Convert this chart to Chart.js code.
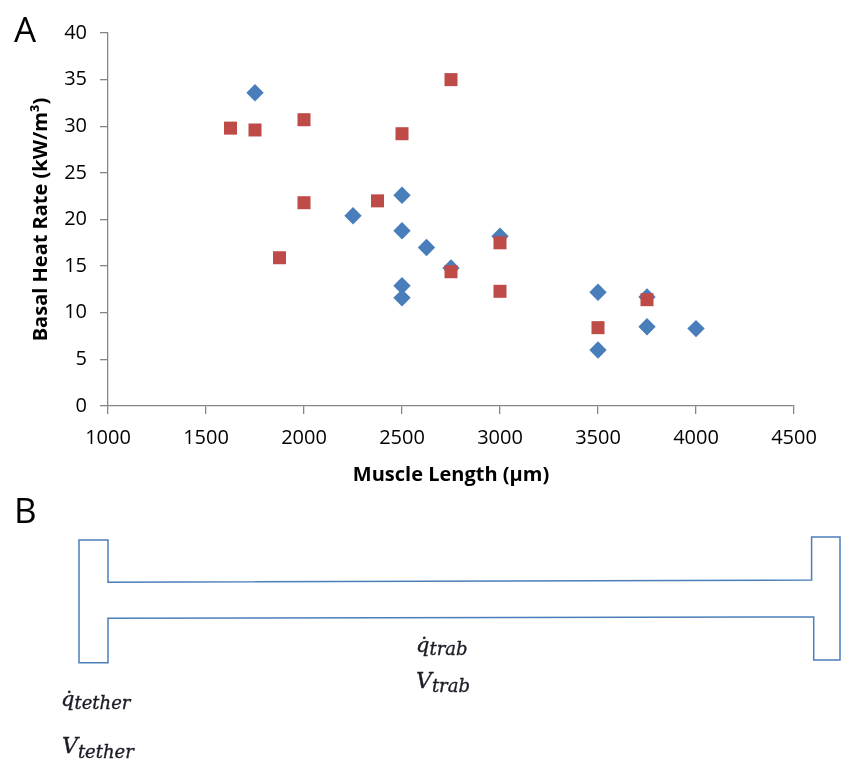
<!DOCTYPE html>
<html>
<head>
<meta charset="utf-8">
<script src="https://cdn.jsdelivr.net/npm/chart.js@4"></script>
<style>
  body { margin: 0; background: #fff; }
  #wrap { position: relative; width: 841px; height: 760px; }
  #chartA, #overlay { position: absolute; left: 0; top: 0; }
</style>
</head>
<body>
<div id="wrap">
  <canvas id="chartA" width="841" height="490"></canvas>
  <svg id="overlay" width="841" height="760">
    <text x="14" y="42" font-family="Open Sans" font-size="35" fill="#000">A</text>
    <text x="14" y="523" font-family="Open Sans" font-size="35" fill="#000">B</text>
    <!-- panel B: trabecula between two tethers -->
    <polygon points="79,540 108,540 108,582.3 811.6,580 811.6,537 840,537 840,660 813.7,660 813.7,617 108,618.3 108,662.7 79,662.7"
             fill="none" stroke="#4a7ebb" stroke-width="1.5"/>
    <g font-family="DejaVu Serif" font-style="italic" fill="#1c1c28" stroke="#1c1c28" stroke-width="0.35">
      <text x="61" y="706" font-size="21">q&#775;<tspan font-size="18" dy="3">tether</tspan></text>
      <text x="62" y="753" font-size="22">V<tspan font-size="18" dy="5">tether</tspan></text>
      <text x="416" y="652" font-size="21">q&#775;<tspan font-size="18" dy="3">trab</tspan></text>
      <text x="416" y="688" font-size="22">V<tspan font-size="18" dy="4">trab</tspan></text>
    </g>
  </svg>
</div>
<script>
const blueLength = [1750, 2250, 2500, 2500, 2500, 2500, 2625, 2750, 3000, 3500, 3500, 3750, 3750, 4000];
const blueRate   = [33.6, 20.4, 22.6, 18.8, 12.9, 11.6, 17.0, 14.8, 18.2, 12.2, 6.0, 11.7, 8.5, 8.3];

const redLength = [1625, 1750, 1875, 2000, 2000, 2375, 2500, 2750, 2750, 3000, 3000, 3500, 3750];
const redRate   = [29.8, 29.6, 15.9, 30.7, 21.8, 22.0, 29.2, 35.0, 14.4, 17.5, 12.3, 8.4, 11.4];

// 軸の目盛り
const xTicks = [1000, 1500, 2000, 2500, 3000, 3500, 4000, 4500];
const yTicks = [0, 5, 10, 15, 20, 25, 30, 35, 40];

const axisGray = '#868686';

function toPoints(xs, ys) {
    return xs.map((x, i) => ({ x: x, y: ys[i] }));
}

const ctx = document.getElementById('chartA').getContext('2d');
new Chart(ctx, {
    type: 'scatter',
    data: {
        datasets: [
            {
                label: 'Series1',
                data: toPoints(blueLength, blueRate),
                pointStyle: 'rectRot',
                pointRadius: 8.7,
                backgroundColor: '#4a7ebb',
                borderColor: '#4a7ebb',
                borderWidth: 0,
                order: 2
            },
            {
                label: 'Series2',
                data: toPoints(redLength, redRate),
                pointStyle: 'rect',
                pointRadius: 9.2,
                backgroundColor: '#be4b48',
                borderColor: '#be4b48',
                borderWidth: 0,
                order: 1
            }
        ]
    },
    options: {
        responsive: false,
        animation: false,
        events: [],
        layout: { padding: { left: 0, top: 33, right: 47, bottom: 0 } },
        plugins: {
            legend: { display: false },
            tooltip: { enabled: false }
        },
        scales: {
            x: {
                type: 'linear',
                min: 1000,
                max: 4500,
                afterBuildTicks: s => { s.ticks = xTicks.map(v => ({ value: v })); },
                afterFit: s => { s.height = 84; },
                grid: { display: true, drawOnChartArea: false, drawTicks: true, tickLength: 8, color: axisGray, lineWidth: 1.3 },
                border: { display: true, color: axisGray, width: 1.3 },
                ticks: {
                    color: '#000',
                    font: { family: 'Open Sans', size: 20 },
                    padding: 12,
                    maxRotation: 0,
                    callback: v => String(v)
                },
                title: {
                    display: true,
                    text: 'Muscle Length (μm)',
                    color: '#000',
                    font: { family: 'Open Sans', size: 20, weight: 'bold' },
                    padding: { top: 0, bottom: 3 }
                }
            },
            y: {
                type: 'linear',
                min: 0,
                max: 40,
                afterBuildTicks: s => { s.ticks = yTicks.map(v => ({ value: v })); },
                afterFit: s => { s.width = 108; },
                grid: { display: true, drawOnChartArea: false, drawTicks: true, tickLength: 8, color: axisGray, lineWidth: 1.3 },
                border: { display: true, color: axisGray, width: 1.3 },
                ticks: {
                    color: '#000',
                    font: { family: 'Open Sans', size: 20 },
                    padding: 13,
                    callback: v => String(v)
                },
                title: {
                    display: true,
                    text: 'Basal Heat Rate (kW/m³)',
                    color: '#000',
                    font: { family: 'Open Sans', size: 20, weight: 'bold' },
                    padding: { top: 29, bottom: 0 }
                }
            }
        }
    }
});
</script>
</body>
</html>
